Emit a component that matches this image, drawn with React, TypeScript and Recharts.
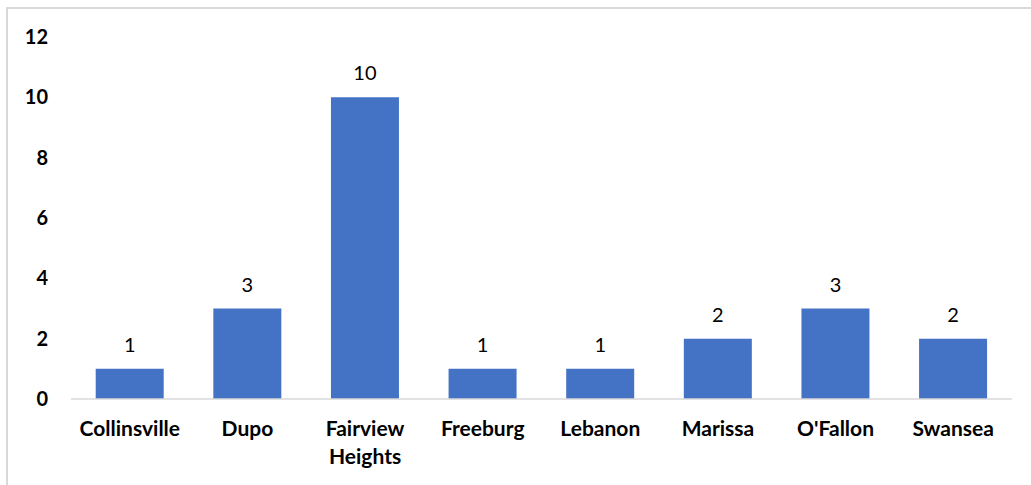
import React from 'react';
import { BarChart, Bar, XAxis, YAxis, LabelList } from 'recharts';

const cities = ['Collinsville', 'Dupo', 'Fairview Heights', 'Freeburg', 'Lebanon', 'Marissa', "O'Fallon", 'Swansea'];
const counts = [1, 3, 10, 1, 1, 2, 3, 2];
const yTicks = [0, 2, 4, 6, 8, 10, 12];

const data = cities.map((city, i) => ({ city, count: counts[i] }));

const FONT = 'Lato, "Open Sans", sans-serif';
const FRAME = '#d9d9d9';

// two-word names that don't fit the band go on two lines
function CityTick(props: any) {
  const { x, y, payload } = props;
  const name: string = payload.value;
  const lines = name.length > 12 ? name.split(' ') : [name];
  return (
    <text
      x={x}
      y={y + 29}
      textAnchor="middle"
      fontFamily={FONT}
      fontWeight={700}
      fontSize={21}
      fill="#000"
    >
      {lines.map((line, i) => (
        <tspan key={line} x={x} dy={i === 0 ? 0 : 28}>
          {line}
        </tspan>
      ))}
    </text>
  );
}

export default function App() {
  return (
    <div style={{ position: 'absolute', left: 0, top: 0, width: 1031, height: 485, background: '#fff', overflow: 'hidden' }}>
      <div style={{ position: 'absolute', left: 0, top: 0 }}>
        <BarChart
          width={1031}
          height={485}
          data={data}
          margin={{ top: 37, right: 19, bottom: 0, left: 0 }}
          barCategoryGap="21%"
        >
          <XAxis
            dataKey="city"
            height={86}
            interval={0}
            tickLine={false}
            axisLine={{ stroke: FRAME, strokeWidth: 1.5 }}
            tick={<CityTick />}
          />
          <YAxis
            width={71}
            domain={[0, 12]}
            ticks={yTicks}
            axisLine={false}
            tickLine={false}
            tickSize={0}
            tickMargin={23}
            tick={{ fill: '#000', fontSize: 20, fontWeight: 700, fontFamily: FONT }}
          />
          <Bar dataKey="count" fill="#4472c4" isAnimationActive={false}>
            <LabelList
              dataKey="count"
              position="top"
              offset={17}
              fill="#000"
              fontSize={20}
              fontFamily={FONT}
            />
          </Bar>
        </BarChart>
      </div>
      {/* chart frame, top and left edges */}
      <div style={{ position: 'absolute', left: 6, top: 7, width: 1025, height: 2, background: FRAME }} />
      <div style={{ position: 'absolute', left: 6, top: 7, width: 2, height: 478, background: FRAME }} />
    </div>
  );
}
